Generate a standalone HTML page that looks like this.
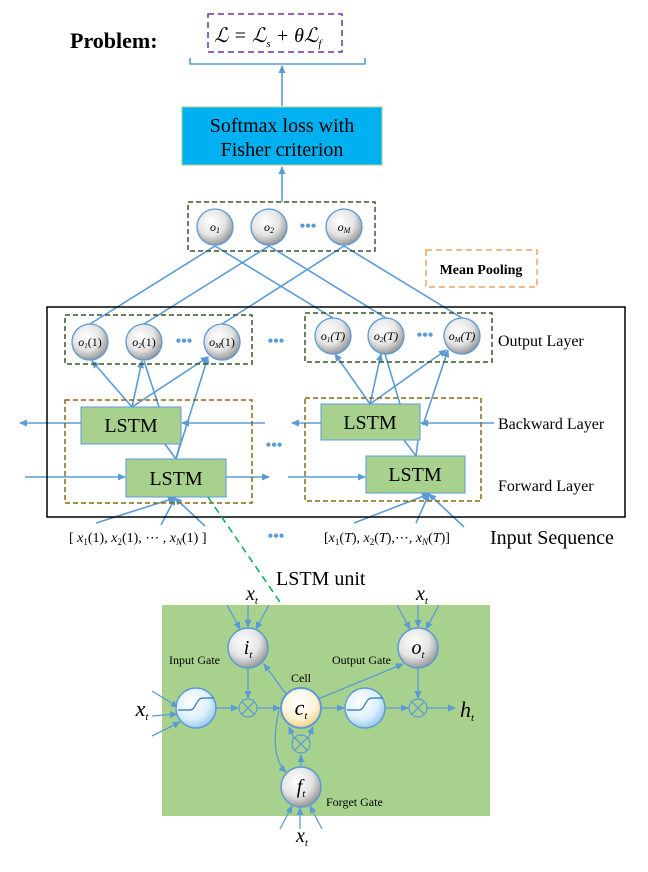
<!DOCTYPE html>
<html><head><meta charset="utf-8"><style>
html,body{margin:0;padding:0;background:#fff;}
svg{display:block;}
text{font-family:"Liberation Serif",serif;}
</style></head><body>
<svg width="648" height="872" viewBox="0 0 648 872" xmlns="http://www.w3.org/2000/svg">
<defs>
<marker id="a" markerWidth="8" markerHeight="8" refX="7" refY="4" orient="auto" markerUnits="userSpaceOnUse"><path d="M0,0.5 L8,4 L0,7.5 Z" fill="#5b9bd5"/></marker>
<radialGradient id="g" cx="0.4" cy="0.35" r="0.7"><stop offset="0" stop-color="#fff"/><stop offset="0.55" stop-color="#e4e4e4"/><stop offset="1" stop-color="#8c8c8c"/></radialGradient>
<radialGradient id="b" cx="0.4" cy="0.35" r="0.7"><stop offset="0" stop-color="#fff"/><stop offset="0.6" stop-color="#ddf0fb"/><stop offset="1" stop-color="#8cc4e6"/></radialGradient>
<radialGradient id="y" cx="0.45" cy="0.35" r="0.7"><stop offset="0" stop-color="#fff"/><stop offset="0.6" stop-color="#fdf3d8"/><stop offset="1" stop-color="#f3c86a"/></radialGradient>
</defs>
<g stroke="#5b9bd5" stroke-width="1.6" fill="none">
<!-- top -->
<path d="M190,58 V64 H365 V58"/>
<line x1="282" y1="106" x2="282" y2="66" marker-end="url(#a)"/>
<line x1="282" y1="202" x2="282" y2="167" marker-end="url(#a)"/>
<!-- pooled to outputs -->
<line x1="215" y1="246" x2="90" y2="324"/><line x1="215" y1="246" x2="333" y2="318"/>
<line x1="269" y1="246" x2="144" y2="324"/><line x1="269" y1="246" x2="386" y2="318"/>
<line x1="344" y1="246" x2="222" y2="324"/><line x1="344" y1="246" x2="462" y2="318"/>
<!-- left LSTM to outputs -->
<line x1="132" y1="407" x2="92" y2="361" marker-end="url(#a)"/>
<line x1="132" y1="407" x2="142" y2="361" marker-end="url(#a)"/>
<line x1="132" y1="407" x2="208" y2="357" marker-end="url(#a)"/>
<line x1="159" y1="407" x2="144" y2="361"/>
<line x1="176" y1="459" x2="208" y2="357" marker-end="url(#a)"/>
<line x1="176" y1="459" x2="165" y2="444"/><line x1="176" y1="459" x2="180" y2="444"/>
<!-- right LSTM to outputs -->
<line x1="370" y1="404" x2="335" y2="354" marker-end="url(#a)"/>
<line x1="370" y1="404" x2="381" y2="354" marker-end="url(#a)"/>
<line x1="370" y1="404" x2="446" y2="350" marker-end="url(#a)"/>
<line x1="400" y1="404" x2="385" y2="354"/>
<line x1="423" y1="425" x2="448" y2="350" marker-end="url(#a)"/>
<line x1="416" y1="456" x2="404" y2="440"/><line x1="416" y1="456" x2="418" y2="440"/>
<!-- backward/forward -->
<line x1="81" y1="423" x2="20" y2="423" marker-end="url(#a)"/>
<line x1="265" y1="423" x2="182" y2="423" marker-end="url(#a)"/>
<line x1="321" y1="423" x2="292" y2="423" marker-end="url(#a)"/>
<line x1="494" y1="423" x2="421" y2="423" marker-end="url(#a)"/>
<line x1="25" y1="477" x2="125" y2="477" marker-end="url(#a)"/>
<line x1="226" y1="477" x2="269" y2="477" marker-end="url(#a)"/>
<line x1="288" y1="477" x2="365" y2="477" marker-end="url(#a)"/>
<!-- inputs -->
<line x1="96" y1="523" x2="175" y2="498" marker-end="url(#a)"/>
<line x1="161" y1="525" x2="175" y2="498" marker-end="url(#a)"/>
<line x1="205" y1="526" x2="175" y2="498" marker-end="url(#a)"/>
<line x1="354" y1="523" x2="429" y2="494" marker-end="url(#a)"/>
<line x1="416" y1="523" x2="429" y2="494" marker-end="url(#a)"/>
<line x1="464" y1="527" x2="429" y2="494" marker-end="url(#a)"/>
</g>
<text x="70" y="48" font-size="22" font-weight="bold">Problem:</text>
<rect x="208" y="14" width="134" height="38" fill="none" stroke="#7030a0" stroke-width="1.5" stroke-dasharray="6,4"/>
<text x="214" y="42" font-size="20" font-style="italic">ℒ = ℒ<tspan font-size="11" dy="5">s</tspan><tspan dy="-5"> + θℒ</tspan><tspan font-size="11" dy="5">f</tspan></text>
<rect x="182" y="107" width="200" height="58" fill="#00b0f0" stroke="#a9d18e" stroke-width="1"/>
<text x="282" y="132" font-size="20" text-anchor="middle">Softmax loss with</text>
<text x="282" y="156" font-size="20" text-anchor="middle">Fisher criterion</text>
<rect x="188" y="202" width="187" height="49" fill="none" stroke="#38572a" stroke-width="1.5" stroke-dasharray="5,3"/>
<g stroke="#5b9bd5" stroke-width="1.3" fill="url(#g)">
<circle cx="215" cy="227" r="18"/><circle cx="269" cy="227" r="18"/><circle cx="344" cy="227" r="18"/>
<circle cx="90" cy="342" r="18"/><circle cx="144" cy="342" r="18"/><circle cx="222" cy="342" r="18"/>
<circle cx="333" cy="336" r="18"/><circle cx="386" cy="336" r="18"/><circle cx="462" cy="336" r="18"/>
</g>
<g font-size="12" font-style="italic" text-anchor="middle">
<text x="215" y="231">o<tspan font-size="8" dy="2">1</tspan></text>
<text x="269" y="231">o<tspan font-size="8" dy="2">2</tspan></text>
<text x="344" y="231">o<tspan font-size="8" dy="2">M</tspan></text>
<text x="90" y="346">o<tspan font-size="7" dy="2">1</tspan><tspan dy="-2" font-style="normal">(1)</tspan></text>
<text x="144" y="346">o<tspan font-size="7" dy="2">2</tspan><tspan dy="-2" font-style="normal">(1)</tspan></text>
<text x="222" y="346">o<tspan font-size="7" dy="2">M</tspan><tspan dy="-2" font-style="normal">(1)</tspan></text>
<text x="333" y="340">o<tspan font-size="7" dy="2">1</tspan><tspan dy="-2">(T)</tspan></text>
<text x="386" y="340">o<tspan font-size="7" dy="2">2</tspan><tspan dy="-2">(T)</tspan></text>
<text x="462" y="340">o<tspan font-size="7" dy="2">M</tspan><tspan dy="-2">(T)</tspan></text>
</g>
<g fill="#5b9bd5" font-size="16" font-weight="bold" text-anchor="middle">
<text x="308" y="231">•••</text><text x="184" y="346">•••</text><text x="276" y="346">•••</text><text x="425" y="340">•••</text><text x="274" y="450">•••</text><text x="276" y="541">•••</text>
</g>
<rect x="426" y="250" width="111" height="37" fill="none" stroke="#f4a460" stroke-width="1.5" stroke-dasharray="6,4"/>
<text x="481" y="274" font-size="14" font-weight="bold" text-anchor="middle">Mean Pooling</text>
<rect x="47" y="307" width="578" height="210" fill="none" stroke="#000" stroke-width="1.5"/>
<rect x="65" y="315" width="187" height="49" fill="none" stroke="#38572a" stroke-width="1.5" stroke-dasharray="5,3"/>
<rect x="305" y="313" width="187" height="49" fill="none" stroke="#38572a" stroke-width="1.5" stroke-dasharray="5,3"/>
<rect x="65" y="400" width="187" height="103" fill="none" stroke="#8b6914" stroke-width="1.5" stroke-dasharray="5,3"/>
<rect x="305" y="398" width="176" height="103" fill="none" stroke="#8b6914" stroke-width="1.5" stroke-dasharray="5,3"/>
<g fill="#a9d18e" stroke="#5b9bd5" stroke-width="1">
<rect x="81" y="407" width="100" height="37"/><rect x="126" y="459" width="100" height="38"/>
<rect x="321" y="404" width="99" height="36"/><rect x="366" y="456" width="99" height="37"/>
</g>
<g font-size="20" text-anchor="middle">
<text x="131" y="432">LSTM</text><text x="176" y="485">LSTM</text><text x="370" y="429">LSTM</text><text x="415" y="481">LSTM</text>
</g>
<g font-size="16"><text x="498" y="346">Output Layer</text><text x="498" y="429">Backward Layer</text><text x="498" y="491">Forward Layer</text></g>
<text x="69" y="542" font-size="14">[ <tspan font-style="italic">x</tspan><tspan font-size="9" dy="3">1</tspan><tspan dy="-3">(1), </tspan><tspan font-style="italic">x</tspan><tspan font-size="9" dy="3">2</tspan><tspan dy="-3">(1), ⋯ , </tspan><tspan font-style="italic">x</tspan><tspan font-size="9" dy="3" font-style="italic">N</tspan><tspan dy="-3">(1) ]</tspan></text>
<text x="324" y="542" font-size="14">[<tspan font-style="italic">x</tspan><tspan font-size="9" dy="3">1</tspan><tspan dy="-3">(<tspan font-style="italic">T</tspan>), </tspan><tspan font-style="italic">x</tspan><tspan font-size="9" dy="3">2</tspan><tspan dy="-3">(<tspan font-style="italic">T</tspan>),⋯, </tspan><tspan font-style="italic">x</tspan><tspan font-size="9" dy="3" font-style="italic">N</tspan><tspan dy="-3">(<tspan font-style="italic">T</tspan>)]</tspan></text>
<text x="490" y="544" font-size="20">Input Sequence</text>
<!-- LSTM unit -->
<rect x="162" y="605" width="328" height="211" fill="#a9d18e"/>
<line x1="208" y1="497" x2="282" y2="605" stroke="#00b050" stroke-width="1.5" stroke-dasharray="7,5"/>
<text x="276" y="585" font-size="20">LSTM unit</text>
<g stroke="#5b9bd5" stroke-width="1.3" fill="none">
<line x1="227" y1="605" x2="240" y2="629" marker-end="url(#a)"/><line x1="248" y1="605" x2="248" y2="627" marker-end="url(#a)"/><line x1="269" y1="605" x2="256" y2="629" marker-end="url(#a)"/>
<line x1="397" y1="605" x2="410" y2="629" marker-end="url(#a)"/><line x1="418" y1="605" x2="418" y2="627" marker-end="url(#a)"/><line x1="439" y1="605" x2="426" y2="629" marker-end="url(#a)"/>
<line x1="152" y1="691" x2="178" y2="707" marker-end="url(#a)"/><line x1="152" y1="716" x2="177" y2="714" marker-end="url(#a)"/><line x1="152" y1="736" x2="180" y2="722" marker-end="url(#a)"/>
<line x1="216" y1="708" x2="238" y2="708" marker-end="url(#a)"/>
<line x1="248" y1="668" x2="248" y2="698" marker-end="url(#a)"/>
<line x1="257" y1="708" x2="280" y2="708" marker-end="url(#a)"/>
<line x1="286" y1="694" x2="264" y2="664" marker-end="url(#a)"/>
<line x1="318" y1="699" x2="403" y2="664" marker-end="url(#a)"/>
<line x1="321" y1="708" x2="344" y2="708" marker-end="url(#a)"/>
<line x1="385" y1="708" x2="408" y2="708" marker-end="url(#a)"/>
<line x1="418" y1="668" x2="418" y2="698" marker-end="url(#a)"/>
<line x1="427" y1="708" x2="455" y2="708" marker-end="url(#a)"/>
<line x1="301" y1="767" x2="301" y2="755" marker-end="url(#a)"/>
<line x1="294" y1="739" x2="289" y2="727" marker-end="url(#a)"/><line x1="308" y1="739" x2="313" y2="727" marker-end="url(#a)"/>
<path d="M279,710 C272,740 275,762 286,772" marker-end="url(#a)"/>
<line x1="280" y1="829" x2="292" y2="806" marker-end="url(#a)"/><line x1="300" y1="829" x2="300" y2="808" marker-end="url(#a)"/><line x1="322" y1="829" x2="310" y2="806" marker-end="url(#a)"/>
</g>
<g stroke="#5b9bd5" stroke-width="1.5">
<circle cx="248" cy="648" r="20" fill="url(#g)"/><circle cx="418" cy="648" r="20" fill="url(#g)"/>
<circle cx="301" cy="787" r="20" fill="url(#g)"/><circle cx="301" cy="708" r="20" fill="url(#y)" stroke-width="2"/>
<circle cx="196" cy="708" r="20" fill="url(#b)"/><circle cx="365" cy="708" r="20" fill="url(#b)"/>
</g>
<g stroke="#2e75b6" stroke-width="1.2" fill="none">
<path d="M178,710 H190 C196,710 196,698 203,698 H214"/><path d="M347,710 H359 C365,710 365,698 372,698 H383"/>
</g>
<g stroke="#5b9bd5" stroke-width="1.2" fill="none">
<circle cx="248" cy="708" r="9"/><path d="M241.6,701.6 l12.8,12.8 M254.4,701.6 l-12.8,12.8"/>
<circle cx="418" cy="708" r="9"/><path d="M411.6,701.6 l12.8,12.8 M424.4,701.6 l-12.8,12.8"/>
<circle cx="301" cy="744" r="9"/><path d="M294.6,737.6 l12.8,12.8 M307.4,737.6 l-12.8,12.8"/>
</g>
<g font-style="italic" text-anchor="middle">
<text x="248" y="654" font-size="20">i<tspan font-size="11" dy="4">t</tspan></text>
<text x="418" y="654" font-size="20">o<tspan font-size="11" dy="4">t</tspan></text>
<text x="301" y="715" font-size="22">c<tspan font-size="11" dy="4">t</tspan></text>
<text x="301" y="793" font-size="20">f<tspan font-size="11" dy="4">t</tspan></text>
<text x="252" y="600" font-size="20">x<tspan font-size="11" dy="4">t</tspan></text>
<text x="422" y="600" font-size="20">x<tspan font-size="11" dy="4">t</tspan></text>
<text x="142" y="716" font-size="22">x<tspan font-size="11" dy="4">t</tspan></text>
<text x="302" y="842" font-size="20">x<tspan font-size="11" dy="4">t</tspan></text>
<text x="467" y="717" font-size="22">h<tspan font-size="11" dy="4">t</tspan></text>
</g>
<g font-size="12"><text x="169" y="664">Input Gate</text><text x="332" y="664">Output Gate</text><text x="291" y="682">Cell</text><text x="326" y="806">Forget Gate</text></g>
</svg>
</body></html>
